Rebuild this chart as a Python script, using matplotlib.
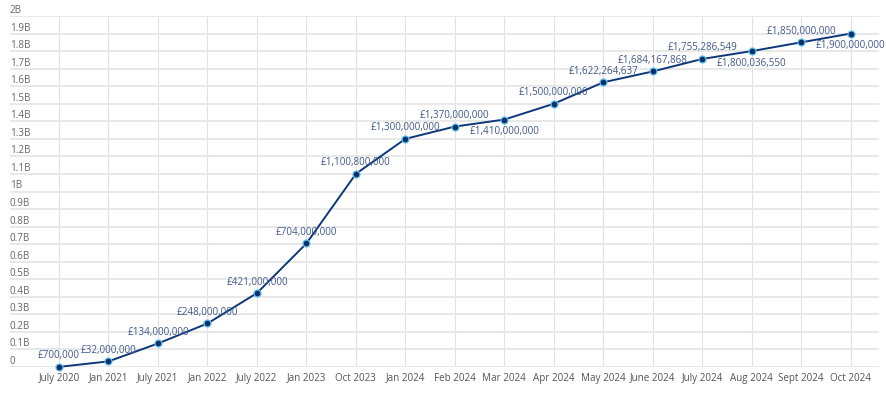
import matplotlib
matplotlib.use('Agg')
import matplotlib.pyplot as plt
import numpy as np

months = ['July 2020', 'Jan 2021', 'July 2021', 'Jan 2022', 'July 2022', 'Jan 2023',
          'Oct 2023', 'Jan 2024', 'Feb 2024', 'Mar 2024', 'Apr 2024', 'May 2024',
          'June 2024', 'July 2024', 'Aug 2024', 'Sept 2024', 'Oct 2024']
values = [700000, 32000000, 134000000, 248000000, 421000000, 704000000,
          1100800000, 1300000000, 1370000000, 1410000000, 1500000000, 1622264637,
          1684167868, 1755286549, 1800036550, 1850000000, 1900000000]
below = ['Mar 2024', 'Aug 2024', 'Oct 2024']
yticks = [i / 10 * 1e9 for i in range(21)]
ytick_labels = ['0'] + ['%gB' % (i / 10) for i in range(1, 21)]

plt.rcParams['font.family'] = ['Open Sans', 'DejaVu Sans']

fig = plt.figure(figsize=(8.87, 3.97), dpi=100)
ax = fig.add_axes([10/887, 30/397, 869/887, 351/397])

x = np.arange(len(months))
ax.plot(x, values, color='#0d3778', lw=1.4, zorder=3,
        marker='o', ms=5, mfc='#0b2f6b', mec='#5cc2ee', mew=0.9, clip_on=False)

for xi, v, m in zip(x, values, months):
    lab = '£{:,}'.format(v)
    if m in below:
        ax.annotate(lab, (xi, v), xytext=(0, -5), textcoords='offset points',
                    ha='center', va='top', fontsize=7.1, color='#41598a', zorder=4)
    else:
        ax.annotate(lab, (xi, v), xytext=(0, 4), textcoords='offset points',
                    ha='center', va='bottom', fontsize=7.1, color='#41598a', zorder=4)

ax.set_xlim(-0.99, 16.57)
ax.set_ylim(0, 2e9)
ax.set_xticks(x)
ax.set_xticklabels(months, fontsize=7.1, color='#555555')
ax.set_yticks(yticks)
ax.set_yticklabels(ytick_labels, fontsize=7.1, color='#666666')
ax.tick_params(axis='y', length=0, pad=0)
ax.tick_params(axis='x', length=0, pad=4)
for t in ax.get_yticklabels():
    t.set_horizontalalignment('left')
    t.set_verticalalignment('bottom')
for t in ax.yaxis.get_major_ticks():
    t.label1.set_transform(ax.get_yaxis_transform())

ax.grid(axis='y', color='#e8e8e8', lw=1.4, zorder=0)
ax.grid(axis='x', color='#e2e2e2', lw=0.8, zorder=0)
for s in ax.spines.values():
    s.set_visible(False)

fig.savefig('out.png', dpi=100)
